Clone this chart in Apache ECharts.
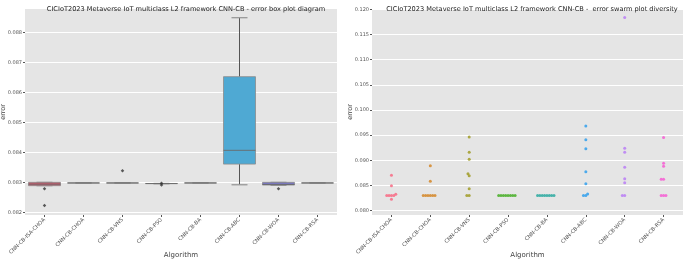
<!DOCTYPE html>
<html><head><meta charset="utf-8">
<script src="https://cdn.jsdelivr.net/npm/echarts@6/dist/echarts.min.js"></script>
<style>html,body{margin:0;padding:0;background:#fff}#c{width:685px;height:261px}</style>
</head><body><div id="c"></div>
<script>
const categories = ["CNN-CB-ISA-CHOA","CNN-CB-CHOA","CNN-CB-VNS","CNN-CB-PSO","CNN-CB-BA","CNN-CB-ABC","CNN-CB-WOA","CNN-CB-RSA"];
// box plot statistics (left panel)
const boxMin    = [0.08289,0.08298,0.08298,0.08296,0.08298,0.08292,0.08290,0.08298];
const boxQ1     = [0.08289,0.08298,0.08298,0.08296,0.08298,0.08361,0.08291,0.08298];
const boxMedian = [0.08294,0.08298,0.08298,0.08296,0.08298,0.08407,0.08293,0.08298];
const boxQ3     = [0.08300,0.08298,0.08298,0.08296,0.08298,0.08653,0.08300,0.08298];
const boxMax    = [0.08300,0.08298,0.08298,0.08296,0.08298,0.08850,0.08300,0.08298];
const outlierCategory = [0,0,2,3,3,6];
const outlierValue    = [0.08279,0.08223,0.08339,0.08297,0.08291,0.08279];
const boxTicks   = [0.082,0.083,0.084,0.085,0.086,0.087,0.088];
const swarmTicks = [0.080,0.085,0.090,0.095,0.100,0.105,0.110,0.115,0.120];
// swarm values (right panel)
const swarmIsaChoa = [0.0870,0.0849,0.0830,0.0830,0.0830,0.0830,0.08325,0.08225];
const swarmChoa    = [0.0830,0.0830,0.0830,0.0830,0.0830,0.0830,0.0858,0.0889];
const swarmVns     = [0.0946,0.0916,0.0902,0.0873,0.0869,0.0843,0.0830,0.0830];
const swarmPso     = [0.0830,0.0830,0.0830,0.0830,0.0830,0.0830,0.0830,0.0830];
const swarmBa      = [0.0830,0.0830,0.0830,0.0830,0.0830,0.0830,0.0830,0.0830];
const swarmAbc     = [0.0968,0.0941,0.0923,0.0877,0.0853,0.0830,0.0830,0.0833];
const swarmWoa     = [0.1184,0.0924,0.0916,0.0886,0.0863,0.0855,0.0830,0.0830];
const swarmRsa     = [0.0945,0.0894,0.0888,0.0862,0.0862,0.0830,0.0830,0.0830];
const swarmAll = [swarmIsaChoa,swarmChoa,swarmVns,swarmPso,swarmBa,swarmAbc,swarmWoa,swarmRsa];

const palette = ['#f77189','#d58c32','#a4a031','#50b131','#36ada4','#3ba3ec','#bb83f4','#f564d4'];
const boxFill = ['#c85a6c','#c99556','#a6a257','#62a852','#4fa8a1','#4fa9d3','#7a78c0','#e27ac8'];

// layout
const G = {top: 9, h: 206};
const L = {left: 25, w: 312, min: 0.08191, max: 0.08879};
const R = {left: 372, w: 311, min: 0.0791, max: 0.1201};
const lineCol = '#555';

// beeswarm placement (pixel space)
const dPx = 2.35;
const bandPx = R.w / categories.length;
const pxPerUnit = G.h / (R.max - R.min);
function swarm(vals) {
  const idx = vals.map((v,i)=>i).sort((a,b)=>vals[a]-vals[b]);
  const placed = [];
  const out = new Array(vals.length);
  idx.forEach(i => {
    const y = vals[i]*pxPerUnit;
    const cands = [0];
    placed.forEach(p => {
      const dy = Math.abs(y-p.y);
      if (dy < dPx) { const dx = Math.sqrt(dPx*dPx-dy*dy); cands.push(p.x+dx, p.x-dx); }
    });
    cands.sort((a,b)=> (Math.abs(a)-Math.abs(b)) || (a-b));
    let x = 0;
    for (const c of cands) {
      if (placed.every(p => Math.hypot(p.x-c, p.y-y) >= dPx-1e-6)) { x = c; break; }
    }
    placed.push({x, y});
    out[i] = x;
  });
  return out;
}

const boxData = categories.map((c,i)=>[i, boxMin[i], boxQ1[i], boxMedian[i], boxQ3[i], boxMax[i]]);
const outlierData = outlierCategory.map((c,i)=>[c, outlierValue[i]]);

const font = 'DejaVu Sans';
const axisLabelY = {fontSize: 5, color: '#555', fontFamily: font, margin: 3, formatter: v => Number(v).toFixed(3)};
function catAxis(grid) {
  return {type:'category', gridIndex: grid, data: categories, boundaryGap: true,
    axisLine:{show:false, onZero:false}, axisTick:{show:true, alignWithLabel:true, length:2, lineStyle:{color:'#555'}},
    axisLabel:{rotate:45, fontSize:5.3, color:'#555', fontFamily:font, margin:4, interval:0},
    splitLine:{show:false}, nameMoveOverlap:false,
    name:'Algorithm', nameLocation:'middle', nameGap:37, nameTextStyle:{fontSize:7, color:'#444', fontFamily:font}};
}
function valAxis(grid, cfg, ticks, gap) {
  return {type:'value', gridIndex: grid, min: cfg.min, max: cfg.max, position:'left',
    axisLine:{show:false, onZero:false}, nameMoveOverlap:false,
    axisTick:{show:true, length:2, lineStyle:{color:'#555'}, customValues: ticks},
    axisLabel:Object.assign({customValues: ticks}, axisLabelY),
    splitLine:{show:true, lineStyle:{color:'#fff', width:1}},
    name:'error', nameLocation:'middle', nameGap:gap, nameTextStyle:{fontSize:6.5, color:'#444', fontFamily:font}};
}

const series = [];
series.push({
  type:'custom', xAxisIndex:0, yAxisIndex:0, data: boxData, z: 3,
  renderItem: function(params, api) {
    const i = api.value(0);
    const band = api.size([1,0])[0];
    const bw = band*0.82, cw = bw*0.5;
    const pMin = api.coord([i, api.value(1)]);
    const pQ1 = api.coord([i, api.value(2)]);
    const pMed = api.coord([i, api.value(3)]);
    const pQ3 = api.coord([i, api.value(4)]);
    const pMax = api.coord([i, api.value(5)]);
    const cx = pQ1[0];
    const ls = {stroke: lineCol, lineWidth: 1};
    return {type:'group', children:[
      {type:'line', shape:{x1:cx,y1:pQ3[1],x2:cx,y2:pMax[1]}, style:ls},
      {type:'line', shape:{x1:cx,y1:pQ1[1],x2:cx,y2:pMin[1]}, style:ls},
      {type:'line', shape:{x1:cx-cw/2,y1:pMax[1],x2:cx+cw/2,y2:pMax[1]}, style:{stroke:'#999', lineWidth:1.3}},
      {type:'line', shape:{x1:cx-cw/2,y1:pMin[1],x2:cx+cw/2,y2:pMin[1]}, style:{stroke:'#999', lineWidth:1.3}},
      {type:'rect', shape:{x:cx-bw/2, y:pQ3[1], width:bw, height:Math.max(pQ1[1]-pQ3[1],0)},
        style:{fill: boxFill[params.dataIndex], stroke:'#8c8c8c', lineWidth:0.8}},
      {type:'line', shape:{x1:cx-bw/2,y1:pMed[1],x2:cx+bw/2,y2:pMed[1]}, style:{stroke:'#6a6a6a', lineWidth:0.9}}
    ]};
  }
});
series.push({type:'scatter', xAxisIndex:0, yAxisIndex:0, data: outlierData, symbol:'diamond', symbolSize:3.5,
  itemStyle:{color:'#333'}, z:4});
swarmAll.forEach((vals, ci) => {
  const xs = swarm(vals);
  series.push({type:'scatter', xAxisIndex:3, yAxisIndex:1, symbolSize:3,
    itemStyle:{color: palette[ci], opacity: 0.9},
    data: vals.map((v,k)=>[ci + xs[k]/bandPx, v])});
});

const chart = echarts.init(document.getElementById('c'), null, {renderer:'canvas'});
chart.setOption({
  backgroundColor:'#fff',
  animation:false,
  title:[
    {text:'CICIoT2023 Metaverse IoT multiclass L2 framework CNN-CB - error box plot diagram', left:181, top:1, textAlign:'center',
      textStyle:{fontSize:6.6, fontWeight:'normal', color:'#222', fontFamily:font}},
    {text:'CICIoT2023 Metaverse IoT multiclass L2 framework CNN-CB -  error swarm plot diversity', left:527, top:1, textAlign:'center',
      textStyle:{fontSize:6.6, fontWeight:'normal', color:'#222', fontFamily:font}}
  ],
  grid:[
    {left:L.left, top:G.top, width:L.w, height:G.h, show:true, backgroundColor:'#e5e5e5', borderWidth:0, outerBoundsMode:'none', containLabel:false},
    {left:R.left, top:G.top, width:R.w, height:G.h, show:true, backgroundColor:'#e5e5e5', borderWidth:0, outerBoundsMode:'none', containLabel:false}
  ],
  xAxis:[
    catAxis(0),
    {type:'value', gridIndex:0, min:-0.5, max:7.5, show:false},
    catAxis(1),
    {type:'value', gridIndex:1, min:-0.5, max:7.5, show:false}
  ],
  yAxis:[ valAxis(0, L, boxTicks, 18), valAxis(1, R, swarmTicks, 18) ],
  series: series
});
</script></body></html>
